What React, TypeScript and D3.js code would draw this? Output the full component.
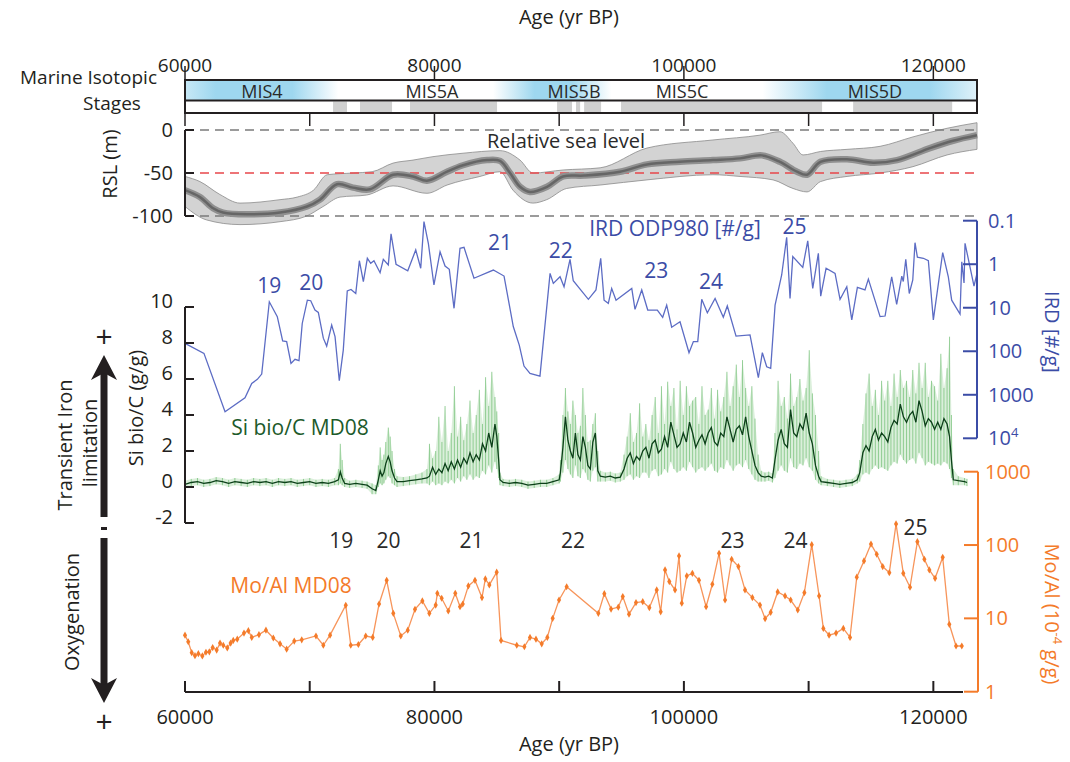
import React from "react";
import * as d3 from "d3";

const FONT = "'Open Sans', 'Noto Sans', sans-serif";
const INK = "#231f20";
const BLUE_T = "#3b4ca6";
const BLUE_L = "#5c6cc4";
const ORANGE = "#f47b2a";
const ORANGE_L = "#f7955b";
const GREEN_T = "#1d5a2b";

// ---------- axes ----------
const ageLabelTicks = [60000, 80000, 100000, 120000];
const ageTicks = [60000, 70000, 80000, 90000, 100000, 110000, 120000];
const rslTicks = [0, -50, -100];
const siTicks = [-2, 0, 2, 4, 6, 8, 10];
const irdTicks = [0.1, 1, 10, 100, 1000, 10000];
const moTicks = [1, 10, 100, 1000];

// ---------- marine isotopic stages ----------
const misNames = ["MIS4", "MIS5A", "MIS5B", "MIS5C", "MIS5D"];
const misLabelAge = [66170, 79800, 91190, 99850, 115320];
const misBlueStart = [60000, 84700, 106300];
const misBlueEnd = [72300, 94200, 123500];
const gapStart = [71870, 74030, 78040, 89830, 91350, 92000, 94960, 113570];
const gapEnd = [72990, 76600, 85020, 91030, 91680, 93360, 111080, 121510];

// ---------- relative sea level ----------
const rslAge = [60000, 61200, 62250, 63050, 64970, 67620, 69780, 70820, 72190, 73470, 74830, 76680, 78280, 79400, 81010, 82290, 84210, 85260, 86060, 86860, 87660, 89030, 90310, 92000, 94880, 97040, 99690, 102330, 104500, 106260, 107700, 109070, 109870, 110950, 113080, 115170, 117090, 119730, 121580, 123500];
const rslMid = [-70, -78, -91, -96, -98, -96, -89, -81, -63, -67, -69, -52, -54, -59, -48.5, -41, -35, -36, -50, -66, -72, -66, -54, -53, -48.5, -40, -37, -35, -33, -29.5, -37, -48.5, -52, -37, -34, -38, -35, -21, -12.5, -6];
const rslHiAge = [60000, 61200, 62800, 64410, 67620, 69000, 70300, 71400, 73500, 75000, 76680, 78280, 79880, 82290, 85260, 86860, 87900, 90310, 93280, 97040, 102330, 106100, 107700, 108750, 109550, 110950, 113080, 115730, 118370, 121100, 123500];
const rslHi = [-54, -60, -75, -85, -81, -78, -70, -52, -50, -48.5, -38.5, -35, -31, -27, -24, -35, -50, -46.5, -44, -21, -11.6, -6, -2, -15.5, -29, -25, -22.5, -19, -8, 2, 8.5];
const rslLoAge = [60000, 61740, 64410, 67620, 69760, 71070, 72430, 74570, 76680, 79400, 81010, 83650, 85260, 86300, 87900, 89000, 90600, 93280, 97040, 102330, 104500, 107150, 108750, 109870, 110950, 113080, 115730, 118370, 121100, 123500];
const rslLo = [-89, -104.6, -110, -106.6, -100, -89, -78, -75.6, -65, -73.6, -64, -54, -48.5, -70, -85, -81, -68, -64, -58, -52, -54, -58, -68, -72, -60, -54, -50, -42.6, -29, -22.5];

// ---------- IRD ODP980 [#/g]: [age, value] ----------
const ird: [number, number][] = [
  [60000, 66], [61520, 112], [63210, 2460], [64810, 1170], [65350, 547], [65800, 443], [66150, 334], [66760, 7.3], [67400, 16], [67830, 58],
  [68150, 60], [68500, 190], [68820, 153], [69140, 165], [69400, 23], [69810, 6.7], [70080, 6.9], [70420, 11.3], [70690, 12.8], [71090, 50],
  [71360, 76], [71760, 25], [72030, 46], [72370, 476], [72690, 94], [73010, 4.1], [73310, 3.8], [73690, 4.7], [73980, 0.83], [74300, 2.5],
  [74620, 0.73], [74890, 0.95], [75150, 0.83], [75640, 1.57], [75900, 0.77], [76300, 1.04], [76520, 0.2], [76920, 1.0], [77860, 1.41], [78500, 0.47],
  [78900, 1.24], [79160, 0.105], [79510, 0.33], [79960, 3.0], [80450, 0.52], [80850, 1.1], [81190, 1.31], [81570, 10.3], [82050, 0.43], [82370, 0.41],
  [83170, 2.1], [84720, 1.36], [85580, 1.87], [86320, 27], [86800, 72], [87180, 219], [87660, 322], [88460, 372], [89270, 1.62], [89530, 2.75],
  [90070, 1.94], [90390, 3.3], [90870, 0.77], [91130, 2.4], [92340, 6.4], [92950, 3.9], [93330, 0.73], [93600, 6.7], [93940, 7.9], [94210, 3.6],
  [94560, 6.7], [95820, 3.6], [96080, 10.9], [96620, 3.9], [97100, 11.3], [97870, 11.3], [98300, 16.6], [98620, 8.7], [99020, 28], [99690, 21],
  [100410, 108], [100760, 60], [101110, 60], [101430, 6.4], [101880, 13], [102500, 6.1], [103160, 16.6], [103480, 9.1], [104180, 45], [105300, 42],
  [105970, 406], [106290, 108], [106640, 227], [106960, 247], [107310, 8.7], [107840, 1.77], [108240, 0.24], [108510, 6.1], [108730, 0.67], [109530, 1.18],
  [109930, 0.29], [110330, 3.6], [110780, 0.56], [110970, 5.4], [111400, 1.24], [112120, 1.62], [112520, 6.4], [113060, 3.3], [113460, 19], [113910, 3.4],
  [114520, 3.9], [114790, 2.2], [115730, 16], [116130, 15.5], [116660, 1.94], [117060, 8.4], [117470, 1.87], [117590, 2.5], [117790, 0.77], [118070, 4.7],
  [118350, 2.3], [118530, 0.32], [118720, 0.69], [119200, 0.73], [119600, 0.83], [120000, 19], [120750, 0.54], [121200, 1.94], [121470, 6.7], [122140, 14],
  [122280, 0.88], [122460, 2.7], [122540, 0.33], [123260, 3.2], [123500, 1.62],
];

// ---------- Si bio/C MD08: [age, mean, upper, lower] ----------
const siBio: [number, number, number, number][] = [
  [60000, 0.15, 0.35, -0.05], [60500, 0.25, 0.45, 0.05], [61000, 0.3, 0.5, 0.1], [61500, 0.2, 0.4, 0.0], [62000, 0.25, 0.45, 0.05],
  [62500, 0.35, 0.55, 0.15], [63000, 0.3, 0.5, 0.1], [63500, 0.2, 0.4, 0.0], [64000, 0.3, 0.5, 0.1], [64500, 0.25, 0.45, 0.05],
  [65000, 0.2, 0.4, 0.0], [65500, 0.3, 0.5, 0.1], [66000, 0.25, 0.45, 0.05], [66500, 0.3, 0.5, 0.1], [67000, 0.2, 0.4, 0.0],
  [67500, 0.3, 0.5, 0.1], [68000, 0.25, 0.45, 0.05], [68500, 0.3, 0.5, 0.1], [69000, 0.2, 0.4, 0.0], [69500, 0.25, 0.45, 0.05],
  [70000, 0.3, 0.5, 0.1], [70500, 0.2, 0.4, 0.0], [71000, 0.25, 0.45, 0.05], [71500, 0.2, 0.4, 0.0], [72000, 0.3, 0.5, 0.1],
  [72300, 0.4, 1.0, 0.1], [72450, 0.85, 2.4, 0.2], [72600, 0.5, 1.5, 0.1], [72800, 0.2, 0.5, 0.0], [73200, 0.15, 0.35, -0.05],
  [73700, 0.2, 0.4, 0.0], [74200, 0.15, 0.35, -0.05], [74600, 0.1, 0.3, -0.1], [75000, -0.1, 0.2, -0.4], [75300, -0.2, 0.1, -0.4],
  [75500, 0.4, 1.2, 0.0], [75650, 0.9, 2.2, 0.2], [75800, 0.6, 1.5, 0.1], [75950, 0.8, 1.8, 0.2], [76100, 1.3, 2.5, 0.4],
  [76300, 1.7, 3.3, 0.6], [76450, 1.4, 2.8, 0.5], [76600, 0.9, 2.0, 0.2], [76800, 0.5, 1.0, 0.1], [77000, 0.3, 0.6, 0.0],
  [77500, 0.3, 0.55, 0.05], [78000, 0.35, 0.6, 0.1], [78500, 0.4, 0.7, 0.15], [79000, 0.45, 0.8, 0.2], [79400, 0.5, 1.0, 0.2],
  [79600, 0.6, 2.4, 0.1], [79850, 1.1, 1.6, 0.3], [80100, 0.7, 2.0, 0.1], [80350, 1.0, 3.9, 0.2], [80600, 0.8, 2.5, 0.1],
  [80850, 1.3, 4.5, 0.3], [81100, 0.9, 2.0, 0.2], [81350, 1.4, 3.0, 0.4], [81600, 1.0, 5.6, 0.2], [81850, 1.5, 2.8, 0.5],
  [82100, 1.1, 3.9, 0.3], [82350, 1.6, 2.6, 0.6], [82600, 1.3, 3.5, 0.4], [82850, 1.9, 4.8, 0.7], [83100, 1.4, 3.0, 0.4],
  [83350, 1.8, 4.0, 0.6], [83600, 1.5, 5.4, 0.5], [83850, 2.4, 3.5, 0.9], [84100, 2.0, 6.1, 0.7], [84350, 3.0, 4.5, 1.2],
  [84600, 2.2, 6.4, 0.8], [84850, 3.5, 5.0, 1.4], [85000, 2.8, 4.2, 1.0], [85150, 1.5, 3.0, 0.5], [85250, 0.4, 0.8, 0.1],
  [85500, 0.25, 0.45, 0.05], [86000, 0.2, 0.4, 0.0], [86500, 0.25, 0.45, 0.05], [87000, 0.2, 0.4, 0.0], [87500, 0.1, 0.3, -0.1],
  [88000, 0.15, 0.35, -0.05], [88500, 0.2, 0.4, 0.0], [89000, 0.2, 0.4, 0.0], [89500, 0.3, 0.5, 0.1], [90000, 0.4, 0.7, 0.2],
  [90100, 0.8, 1.5, 0.3], [90300, 2.2, 4.0, 0.8], [90500, 3.9, 5.5, 1.5], [90700, 2.6, 4.2, 1.0], [90900, 2.0, 3.5, 0.7],
  [91100, 1.6, 4.8, 0.5], [91300, 3.0, 4.0, 1.2], [91500, 1.8, 3.0, 0.6], [91700, 1.5, 3.4, 0.5], [91900, 2.8, 5.5, 1.0],
  [92100, 2.2, 4.0, 0.8], [92300, 1.2, 2.5, 0.4], [92500, 1.0, 2.6, 0.3], [92700, 2.5, 3.5, 0.9], [92900, 3.0, 4.1, 1.1],
  [93100, 0.9, 2.0, 0.3], [93300, 0.6, 0.9, 0.3], [93700, 0.55, 0.8, 0.3], [94100, 0.6, 0.85, 0.35], [94500, 0.5, 0.75, 0.25],
  [94900, 0.55, 0.8, 0.3], [95200, 1.0, 1.8, 0.4], [95450, 1.6, 2.8, 0.6], [95700, 1.9, 4.1, 0.7], [95950, 1.3, 2.5, 0.4],
  [96200, 1.7, 3.0, 0.6], [96450, 1.5, 4.65, 0.5], [96700, 2.0, 2.8, 0.8], [96950, 2.2, 3.5, 0.8], [97200, 1.6, 2.6, 0.5],
  [97450, 2.4, 4.0, 0.9], [97700, 2.6, 5.0, 1.0], [97950, 1.9, 3.0, 0.6], [98200, 2.1, 5.6, 0.7], [98450, 2.8, 3.5, 1.0],
  [98700, 2.2, 5.85, 0.8], [98950, 3.6, 4.5, 1.4], [99200, 2.9, 5.5, 1.0], [99450, 2.2, 3.2, 0.8], [99700, 2.4, 5.9, 0.9],
  [99950, 3.0, 4.0, 1.1], [100200, 2.5, 5.6, 0.9], [100450, 3.6, 4.5, 1.4], [100700, 3.0, 4.8, 1.1], [100950, 2.2, 5.0, 0.8],
  [101200, 2.6, 3.5, 1.0], [101450, 2.9, 5.6, 1.1], [101700, 2.4, 4.0, 0.9], [101950, 3.0, 4.3, 1.1], [102200, 3.3, 5.5, 1.3],
  [102450, 2.5, 3.8, 0.9], [102700, 2.3, 5.4, 0.8], [102950, 3.0, 4.2, 1.1], [103200, 2.8, 5.0, 1.0], [103450, 3.9, 6.4, 1.5],
  [103700, 3.2, 4.5, 1.2], [103950, 2.5, 5.6, 0.9], [104200, 3.2, 6.8, 1.2], [104450, 3.4, 5.0, 1.3], [104700, 2.9, 7.05, 1.1],
  [104950, 3.9, 5.5, 1.5], [105200, 2.8, 4.5, 1.0], [105450, 2.0, 5.6, 0.7], [105700, 1.2, 3.8, 0.4], [105950, 0.8, 1.8, 0.3],
  [106200, 0.6, 0.9, 0.3], [106500, 0.55, 0.8, 0.3], [106800, 0.6, 0.85, 0.35], [107100, 0.5, 0.75, 0.25], [107300, 1.5, 3.0, 0.5],
  [107550, 2.6, 5.9, 0.9], [107800, 3.2, 4.5, 1.2], [108050, 2.4, 5.0, 0.9], [108300, 2.2, 3.8, 0.8], [108550, 4.3, 6.3, 1.6],
  [108800, 3.0, 4.5, 1.1], [109050, 2.8, 5.0, 1.0], [109300, 3.5, 6.0, 1.3], [109550, 3.2, 4.8, 1.2], [109800, 4.1, 5.5, 1.6],
  [110050, 3.0, 7.6, 1.1], [110300, 2.4, 5.2, 0.9], [110550, 1.2, 4.0, 0.4], [110800, 0.6, 2.0, 0.2], [111000, 0.3, 0.6, 0.1],
  [111500, 0.25, 0.45, 0.05], [112000, 0.2, 0.4, 0.0], [112500, 0.15, 0.35, -0.05], [113000, 0.2, 0.4, 0.0], [113500, 0.25, 0.45, 0.05],
  [113900, 0.4, 0.7, 0.2], [114100, 0.8, 1.5, 0.3], [114350, 1.9, 3.5, 0.7], [114600, 2.3, 5.2, 0.8], [114850, 2.0, 6.3, 0.7],
  [115100, 2.8, 4.5, 1.0], [115350, 3.2, 5.4, 1.2], [115600, 2.6, 4.0, 1.0], [115850, 3.0, 5.9, 1.1], [116100, 2.8, 4.8, 1.0],
  [116350, 2.5, 5.9, 0.9], [116600, 3.3, 4.5, 1.2], [116850, 3.7, 6.3, 1.4], [117100, 3.5, 5.0, 1.3], [117350, 4.6, 6.5, 1.8],
  [117600, 3.9, 5.5, 1.5], [117850, 3.6, 5.9, 1.3], [118100, 4.0, 5.0, 1.5], [118350, 4.2, 6.5, 1.6], [118600, 3.6, 5.2, 1.3],
  [118850, 4.8, 6.9, 1.9], [119100, 4.2, 5.5, 1.6], [119350, 3.4, 6.9, 1.2], [119600, 3.8, 5.0, 1.4], [119850, 3.6, 5.9, 1.3],
  [120100, 3.2, 5.6, 1.2], [120350, 3.6, 4.8, 1.3], [120600, 3.2, 7.4, 1.2], [120850, 3.8, 5.5, 1.4], [121100, 3.5, 6.6, 1.3],
  [121300, 2.8, 8.35, 1.0], [121450, 1.5, 4.0, 0.5], [121600, 0.4, 1.0, 0.1], [122000, 0.35, 0.6, 0.1], [122500, 0.3, 0.5, 0.1],
  [122700, 0.25, 0.45, 0.05],
];

// ---------- Mo/Al MD08 (10^-4 g/g): [age, value] ----------
const moAl: [number, number][] = [
  [60000, 5.9], [60260, 4.8], [60540, 3.4], [60800, 3.1], [61070, 3.3], [61390, 3.07], [61680, 3.45], [61950, 3.5], [62220, 4.0], [62540, 3.7],
  [62810, 4.6], [63070, 4.3], [63390, 3.95], [63660, 4.6], [63870, 5.0], [64190, 5.2], [64730, 6.3], [65080, 6.8], [65350, 5.5], [65930, 6.0],
  [66490, 6.9], [67080, 5.4], [67620, 4.5], [68150, 3.8], [68760, 4.9], [69360, 5.1], [70500, 5.75], [71090, 4.3], [71630, 5.9], [72890, 15.1],
  [73290, 4.3], [73900, 4.4], [74490, 5.75], [75050, 5.5], [75560, 15.7], [76170, 33], [76700, 11.7], [77300, 5.75], [77860, 6.9], [78440, 13.3],
  [79030, 17.3], [79590, 11.7], [80100, 15.2], [80230, 22], [80580, 18.8], [81110, 12.6], [81670, 22], [82050, 14.4], [82270, 15.7], [82720, 27.7],
  [83250, 33], [83810, 19.2], [84080, 34.5], [84400, 28.6], [84990, 42.6], [85340, 5.0], [86600, 4.3], [87210, 4.1], [87660, 5.5], [88140, 5.2],
  [88600, 4.5], [89050, 5.5], [89480, 10], [89990, 17.8], [90600, 27], [93140, 11.7], [93620, 21.7], [94160, 13.4], [94740, 14.2], [95100, 19.8],
  [95600, 11.4], [96160, 16.4], [96700, 16.9], [97230, 14], [97820, 24.4], [98140, 12.3], [98490, 45.8], [98830, 31.7], [99290, 24.4], [99610, 71],
  [99830, 16.1], [100230, 37.9], [100680, 41.2], [101210, 33], [101780, 14.4], [102280, 29.2], [102820, 77], [103300, 17.8], [103830, 64], [104370, 50.8],
  [104900, 24.4], [105490, 19.2], [106100, 15.2], [106510, 9.9], [106960, 12.1], [107520, 22.9], [108110, 20.2], [108560, 17.8], [109130, 13], [109660, 22.4],
  [110250, 101], [110840, 20.2], [111180, 7.3], [111640, 5.9], [112200, 6.3], [112780, 7.3], [113320, 5.5], [113860, 36.4], [114440, 60.7], [115000, 103],
  [115460, 74.9], [115940, 50.8], [116470, 42], [117010, 194], [117590, 41.2], [118130, 26.6], [118720, 111], [119280, 64], [119680, 45.8], [120140, 35.2],
  [120750, 68], [121280, 8.3], [121820, 4.2], [122280, 4.2],
];

// event numbers
const irdEvents = ["19", "20", "21", "22", "23", "24", "25"];
const irdEventAge = [66760, 70130, 85260, 90130, 97780, 102170, 108870];
const moEvents = ["19", "20", "21", "22", "23", "24", "25"];
const moEventAge = [72520, 76320, 82970, 91110, 103890, 108950, 118560];

export default function App() {
  const x = d3.scaleLinear().domain([60000, 123500]).range([185, 977]);
  const yR = d3.scaleLinear().domain([-100, 0]).range([216, 130]);
  const yI = d3.scaleLog().domain([0.1, 10000]).range([220.7, 438.3]);
  const yS = d3.scaleLinear().domain([-2, 10]).range([523, 307]);
  const yM = d3.scaleLog().domain([1, 1000]).range([691.7, 471.7]);

  // RSL band
  const upperPts: [number, number][] = rslHiAge.map((a, i) => [x(a), yR(rslHi[i])]);
  const lowerPts: [number, number][] = rslLoAge.map((a, i) => [x(a), yR(rslLo[i])]);
  const bandPath =
    (d3.line().curve(d3.curveMonotoneX)(upperPts) || "") +
    "L" +
    (d3.line().curve(d3.curveMonotoneX)(lowerPts.slice().reverse()) || "").slice(1) +
    "Z";
  const midPath =
    d3
      .line<number>()
      .curve(d3.curveCatmullRom.alpha(0.5))
      .x((_, i) => x(rslAge[i]))
      .y((d) => yR(d))(rslMid) || "";

  const irdPath = d3.line<[number, number]>().x((d) => x(d[0])).y((d) => yI(d[1]))(ird) || "";
  const siLine = d3.line<[number, number, number, number]>().x((d) => x(d[0])).y((d) => yS(d[1]))(siBio) || "";
  const siArea =
    d3
      .area<[number, number, number, number]>()
      .x((d) => x(d[0]))
      .y0((d) => yS(d[3]))
      .y1((d) => yS(d[2]))(siBio) || "";
  const moPath = d3.line<[number, number]>().x((d) => x(d[0])).y((d) => yM(d[1]))(moAl) || "";
  const marker = d3.symbol().type(d3.symbolDiamond).size(15)() || "";

  const t = { fontFamily: FONT, fontSize: 20, fill: INK } as const;

  return (
    <svg
      width={1070}
      height={762}
      style={{ position: "absolute", left: 0, top: 0, background: "#fff" }}
      fontFamily={FONT}
    >
      <defs>
        <linearGradient id="mis0" x1="0" x2="1" y1="0" y2="0">
          <stop offset="0" stopColor="#c7e8f6" />
          <stop offset="0.2" stopColor="#9ed7ef" />
          <stop offset="0.7" stopColor="#9ed7ef" />
          <stop offset="1" stopColor="#ffffff" />
        </linearGradient>
        <linearGradient id="mis1" x1="0" x2="1" y1="0" y2="0">
          <stop offset="0" stopColor="#ffffff" />
          <stop offset="0.35" stopColor="#9ed7ef" />
          <stop offset="0.65" stopColor="#9ed7ef" />
          <stop offset="1" stopColor="#ffffff" />
        </linearGradient>
        <linearGradient id="mis2" x1="0" x2="1" y1="0" y2="0">
          <stop offset="0" stopColor="#ffffff" />
          <stop offset="0.3" stopColor="#9ed7ef" />
          <stop offset="0.78" stopColor="#9ed7ef" />
          <stop offset="1" stopColor="#dff1f9" />
        </linearGradient>
      </defs>

      {/* top title */}
      <text x={569} y={24} textAnchor="middle" {...t}>
        Age (yr BP)
      </text>
      {ageLabelTicks.map((a) => (
        <text key={"tl" + a} x={x(a)} y={72} textAnchor="middle" {...t} fontSize={19}>
          {a}
        </text>
      ))}
      {ageLabelTicks.map((a) => (
        <line key={"tt" + a} x1={x(a)} x2={x(a)} y1={66} y2={80} stroke={INK} strokeWidth={1.5} />
      ))}

      {/* MIS box */}
      {misBlueStart.map((s, i) => (
        <rect key={"mb" + i} x={x(s)} y={80} width={x(misBlueEnd[i]) - x(s)} height={20} fill={`url(#mis${i})`} />
      ))}
      {gapStart.map((s, i) => (
        <rect key={"gp" + i} x={x(s)} y={101.5} width={x(gapEnd[i]) - x(s)} height={10.5} fill="#d0d0d0" />
      ))}
      <rect x={185} y={80} width={792} height={33} fill="none" stroke={INK} strokeWidth={2} />
      <line x1={185} x2={977} y1={100.5} y2={100.5} stroke={INK} strokeWidth={2} />
      {misNames.map((n, i) => (
        <text key={n} x={x(misLabelAge[i])} y={97.5} textAnchor="middle" {...t} fontSize={18} fill="#2a2a2a">
          {n}
        </text>
      ))}
      {ageTicks.map((a) => (
        <line key={"bt" + a} x1={x(a)} x2={x(a)} y1={113} y2={126} stroke={INK} strokeWidth={1.5} />
      ))}
      <text x={157} y={84} textAnchor="end" {...t} fontSize={19}>
        Marine Isotopic
      </text>
      <text x={112} y={110} textAnchor="middle" {...t} fontSize={19}>
        Stages
      </text>

      {/* RSL panel */}
      <path d={bandPath} fill="#d3d3d3" stroke="#8a8a8a" strokeWidth={0.8} />
      <line x1={185} x2={977} y1={yR(0)} y2={yR(0)} stroke="#7b7b7b" strokeWidth={1.5} strokeDasharray="9 6" />
      <line x1={185} x2={977} y1={yR(-100)} y2={yR(-100)} stroke="#7b7b7b" strokeWidth={1.5} strokeDasharray="9 6" />
      <line x1={185} x2={977} y1={yR(-50)} y2={yR(-50)} stroke="#e8474b" strokeWidth={1.5} strokeDasharray="9 6" />
      <path d={midPath} fill="none" stroke="#909090" strokeWidth={6.5} />
      <path d={midPath} fill="none" stroke="#666666" strokeWidth={2.5} />
      <line x1={185} x2={185} y1={yR(0)} y2={yR(-100)} stroke={INK} strokeWidth={2} />
      {rslTicks.map((v) => (
        <g key={"rt" + v}>
          <line x1={185} x2={194} y1={yR(v)} y2={yR(v)} stroke={INK} strokeWidth={2} />
          <text x={173} y={yR(v) + 7} textAnchor="end" {...t}>
            {v}
          </text>
        </g>
      ))}
      <text transform="translate(117,164) rotate(-90)" textAnchor="middle" {...t}>
        RSL (m)
      </text>
      <text x={566} y={148} textAnchor="middle" {...t} fontSize={20} fill="#2a2a2a">
        Relative sea level
      </text>

      {/* IRD */}
      <path d={irdPath} fill="none" stroke={BLUE_L} strokeWidth={1.3} />
      <line x1={977} x2={977} y1={yI(0.1)} y2={yI(10000)} stroke={BLUE_T} strokeWidth={2} />
      {irdTicks.map((v) => (
        <line key={"it" + v} x1={963} x2={977} y1={yI(v)} y2={yI(v)} stroke={BLUE_T} strokeWidth={2} />
      ))}
      {irdTicks.map((v) => (
        <text key={"il" + v} x={988} y={yI(v) + 7} {...t} fill={BLUE_T}>
          {v === 10000 ? (
            <>
              10
              <tspan dy={-8} fontSize={13}>
                4
              </tspan>
            </>
          ) : (
            String(v)
          )}
        </text>
      ))}
      <text transform="translate(1045,332) rotate(90)" textAnchor="middle" {...t} fill={BLUE_T}>
        IRD [#/g]
      </text>
      <text x={675} y={236} textAnchor="middle" {...t} fontSize={21} fill={BLUE_T}>
        IRD ODP980 [#/g]
      </text>
      {irdEvents.map((e, i) => (
        <text
          key={"ie" + e}
          x={x(irdEventAge[i])}
          y={[293, 290, 250, 258, 278, 289, 234][i]}
          textAnchor="middle"
          {...t}
          fontSize={21}
          fill={BLUE_T}
        >
          {e}
        </text>
      ))}

      {/* Si bio/C */}
      <path d={siArea} fill="#8fcd8f" opacity={0.32} />
      {siBio.map((d, i) => (
        <line
          key={"sp" + i}
          x1={x(d[0])}
          x2={x(d[0])}
          y1={yS(d[3])}
          y2={yS(d[2])}
          stroke="#78c27b"
          strokeWidth={1}
          opacity={0.75}
        />
      ))}
      <path d={siLine} fill="none" stroke="#0c4019" strokeWidth={1.3} />
      <line x1={185} x2={185} y1={yS(10)} y2={yS(-2)} stroke={INK} strokeWidth={2} />
      {siTicks.map((v) => (
        <g key={"st" + v}>
          <line x1={185} x2={194} y1={yS(v)} y2={yS(v)} stroke={INK} strokeWidth={2} />
          <text x={173} y={yS(v) + 1} textAnchor="end" {...t}>
            {v}
          </text>
        </g>
      ))}
      <text transform="translate(143,408) rotate(-90)" textAnchor="middle" {...t}>
        Si bio/C (g/g)
      </text>
      <text x={300} y={435} textAnchor="middle" {...t} fontSize={21} fill={GREEN_T}>
        Si bio/C MD08
      </text>

      {/* Mo/Al */}
      <path d={moPath} fill="none" stroke={ORANGE_L} strokeWidth={1.3} />
      {moAl.map((d, i) => (
        <path key={"mm" + i} d={marker} transform={`translate(${x(d[0])},${yM(d[1])})`} fill={ORANGE} />
      ))}
      <line x1={978} x2={978} y1={yM(1000)} y2={yM(1)} stroke={ORANGE} strokeWidth={2} />
      {moTicks.map((v) => (
        <g key={"mt" + v}>
          <line x1={964} x2={978} y1={yM(v)} y2={yM(v)} stroke={ORANGE} strokeWidth={2} />
          <text x={985} y={yM(v) + 7} {...t} fill={ORANGE}>
            {v}
          </text>
        </g>
      ))}
      <text transform="translate(1045,614) rotate(90)" textAnchor="middle" {...t} fill={ORANGE}>
        Mo/Al (10
        <tspan dy={-8} fontSize={13}>
          -4
        </tspan>
        <tspan dy={8}> g/g)</tspan>
      </text>
      <text x={291} y={593} textAnchor="middle" {...t} fontSize={21} fill={ORANGE}>
        Mo/Al MD08
      </text>
      {moEvents.map((e, i) => (
        <text
          key={"me" + e}
          x={x(moEventAge[i])}
          y={e === "25" ? 535 : 548}
          textAnchor="middle"
          {...t}
          fontSize={21}
          fill="#2a2a2a"
        >
          {e}
        </text>
      ))}

      {/* bottom axis */}
      <line x1={185} x2={963} y1={692} y2={692} stroke={INK} strokeWidth={2} />
      {ageTicks.map((a) => (
        <line key={"ba" + a} x1={x(a)} x2={x(a)} y1={681} y2={692} stroke={INK} strokeWidth={2} />
      ))}
      {ageLabelTicks.map((a) => (
        <text key={"bl" + a} x={x(a)} y={724} textAnchor="middle" {...t}>
          {a}
        </text>
      ))}
      <text x={569} y={751} textAnchor="middle" {...t}>
        Age (yr BP)
      </text>

      {/* left arrows */}
      <text x={104} y={347} textAnchor="middle" {...t} fontSize={30}>
        +
      </text>
      <line x1={104} x2={104} y1={517} y2={372} stroke={INK} strokeWidth={7} />
      <path d="M104,355 L117,380 L104,373 L91,380 Z" fill={INK} />
      <line x1={101} x2={107} y1={528.5} y2={528.5} stroke={INK} strokeWidth={3} />
      <line x1={104} x2={104} y1={538} y2={686} stroke={INK} strokeWidth={7} />
      <path d="M104,703 L117,678 L104,685 L91,678 Z" fill={INK} />
      <text x={104} y={732} textAnchor="middle" {...t} fontSize={30}>
        +
      </text>
      <text transform="translate(72,445) rotate(-90)" textAnchor="middle" {...t}>
        Transient Iron
      </text>
      <text transform="translate(97,443) rotate(-90)" textAnchor="middle" {...t}>
        limitation
      </text>
      <text transform="translate(79,612) rotate(-90)" textAnchor="middle" {...t}>
        Oxygenation
      </text>
    </svg>
  );
}
